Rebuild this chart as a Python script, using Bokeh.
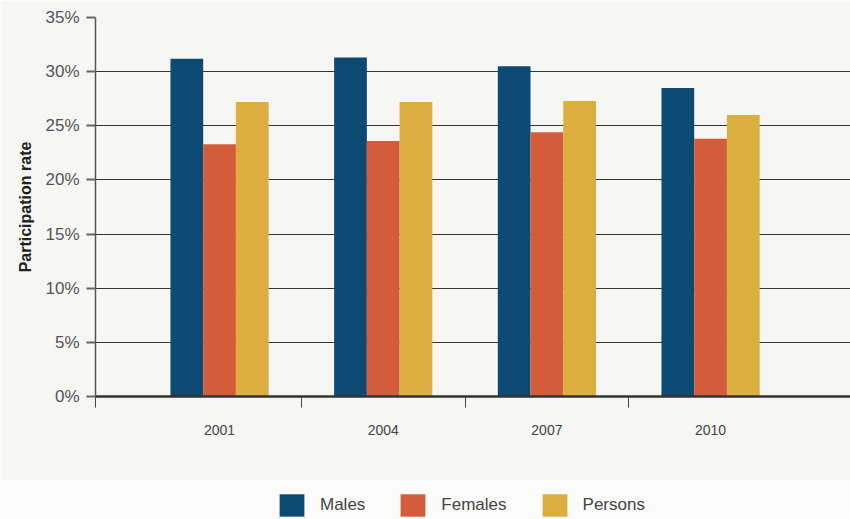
from bokeh.plotting import figure
from bokeh.layouts import column
from bokeh.models import FixedTicker, PrintfTickFormatter, Legend, LegendItem, Range1d
from bokeh.embed import file_html
from bokeh.resources import INLINE

years = ["2001", "2004", "2007", "2010"]
males = [31.2, 31.3, 30.5, 28.5]
females = [23.3, 23.6, 24.4, 23.8]
persons = [27.2, 27.2, 27.3, 26.0]
series_names = ["Males", "Females", "Persons"]
colors = ["#0d4a73", "#d35c3a", "#dcae3f"]

bg = "#f6f6f3"
bg2 = "#fbfbf9"
xs = list(range(len(years)))
x_start, x_end = -0.758, 3.855

p = figure(width=850, height=480, output_backend="svg", toolbar_location=None,
           x_range=Range1d(x_start, x_end), y_range=Range1d(0, 35),
           min_border_left=95, min_border_right=0, min_border_top=17, min_border_bottom=84)
p.background_fill_color = bg
p.border_fill_color = bg
p.outline_line_color = None

for i, (vals, col) in enumerate(zip([males, females, persons], colors)):
    offs = (i - 1) * 0.2
    p.vbar(x=[x + offs for x in xs], top=vals, width=0.2, bottom=0,
           fill_color=col, line_color=None)

# grid
p.xgrid.grid_line_color = None
p.ygrid.grid_line_color = "#333333"
p.ygrid.grid_line_width = 1.2
p.ygrid.ticker = FixedTicker(ticks=list(range(0, 36, 5)))

# y axis
p.yaxis.ticker = FixedTicker(ticks=list(range(0, 36, 5)))
p.yaxis.formatter = PrintfTickFormatter(format="%d%%")
p.yaxis.axis_line_color = "#555555"
p.yaxis.axis_line_width = 1.5
p.yaxis.major_tick_line_color = "#666666"
p.yaxis.major_tick_line_width = 2
p.yaxis.major_tick_out = 9
p.yaxis.major_tick_in = 0
p.yaxis.minor_tick_line_color = None
p.yaxis.major_label_text_font = "Liberation Sans"
p.yaxis.major_label_text_font_size = "17px"
p.yaxis.major_label_text_color = "#555555"
p.yaxis.major_label_standoff = 7
p.yaxis.axis_label = "Participation rate"
p.yaxis.axis_label_text_font = "'Liberation Sans Narrow', 'Liberation Sans'"
p.yaxis.axis_label_text_font_style = "bold"
p.yaxis.axis_label_text_font_size = "16px"
p.yaxis.axis_label_text_color = "#222222"
p.yaxis.axis_label_standoff = 8

# x axis
p.xaxis.ticker = FixedTicker(ticks=xs, minor_ticks=[x_start, 0.5, 1.5, 2.5])
p.xaxis.major_label_overrides = {i: y for i, y in enumerate(years)}
p.xaxis.axis_line_color = "#333333"
p.xaxis.axis_line_width = 2.5
p.xaxis.major_tick_line_color = None
p.xaxis.major_tick_out = 0
p.xaxis.major_tick_in = 0
p.xaxis.minor_tick_line_color = "#444444"
p.xaxis.minor_tick_line_width = 1
p.xaxis.minor_tick_out = 11
p.xaxis.minor_tick_in = 0
p.xaxis.major_label_text_font = "Liberation Sans"
p.xaxis.major_label_text_font_size = "14px"
p.xaxis.major_label_text_color = "#444444"
p.xaxis.major_label_standoff = 17

# legend strip
p2 = figure(width=850, height=39, output_backend="svg", toolbar_location=None,
            x_range=Range1d(0, 1), y_range=Range1d(0, 1),
            x_axis_type=None, y_axis_type=None, min_border=0)
p2.background_fill_color = bg2
p2.border_fill_color = bg2
p2.outline_line_color = None
p2.grid.grid_line_color = None
legend_renderers = [p2.vbar(x=[5], top=[0.5], width=0.1, fill_color=c, line_color=None) for c in colors]

legend = Legend(items=[LegendItem(label=n, renderers=[r]) for n, r in zip(series_names, legend_renderers)],
                orientation="horizontal", location=(181, 0),
                glyph_width=31, glyph_height=28, label_standoff=13, spacing=32,
                padding=0, margin=0, border_line_color=None, background_fill_alpha=0,
                label_text_font="Liberation Sans", label_text_font_size="17px",
                label_text_color="#444444", label_height=28)
p2.add_layout(legend, "center")

layout = column(p, p2, spacing=0)
open("out.html", "w").write(file_html(layout, INLINE))
